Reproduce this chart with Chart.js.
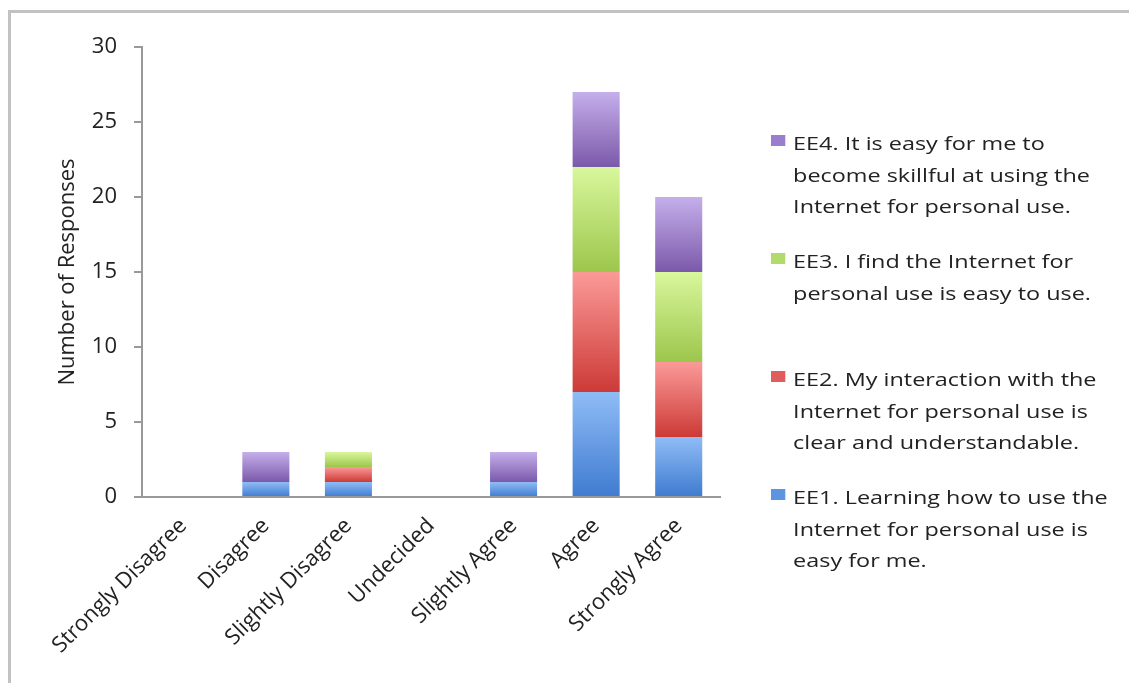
<!DOCTYPE html>
<html>
<head>
<meta charset="utf-8">
<title>Effort Expectancy</title>
<script src="https://cdn.jsdelivr.net/npm/chart.js@4.4.0/dist/chart.umd.min.js"></script>
<style>
  html, body { margin: 0; padding: 0; background: #fff; }
  .page { position: relative; width: 1129px; height: 683px; overflow: hidden; font-family: 'Open Sans', sans-serif; }
  .frame { position: absolute; left: 8px; top: 10px; right: 0; bottom: 0; border-top: 3px solid #c2c2c2; border-left: 3px solid #c2c2c2; }
  #effortChart { position: absolute; left: 0; top: 0; }
  .legend { position: absolute; left: 771px; top: 0; transform: scaleX(1.3); transform-origin: 0 0; }
  .legend .item { position: absolute; left: 0; white-space: nowrap; color: #222; font-size: 18px; line-height: 31.5px; }
  .legend .swatch { position: absolute; left: 0; top: 7px; width: 11px; height: 11px; }
  .legend .text { position: absolute; left: 17px; top: 0; }
</style>
</head>
<body>
<div class="page">
  <div class="frame"></div>
  <canvas id="effortChart" width="760" height="683"></canvas>
  <div class="legend" id="legend"></div>
</div>
<script>
const categories = ['Strongly Disagree', 'Disagree', 'Slightly Disagree', 'Undecided', 'Slightly Agree', 'Agree', 'Strongly Agree'];

// responses per item, bottom of the stack first
const ee1 = [0, 1, 1, 0, 1, 7, 4];
const ee2 = [0, 0, 1, 0, 0, 8, 5];
const ee3 = [0, 0, 1, 0, 0, 7, 6];
const ee4 = [0, 2, 0, 0, 2, 5, 5];

const seriesNames = [
  ['EE1. Learning how to use the', 'Internet for personal use is', 'easy for me.'],
  ['EE2. My interaction with the', 'Internet for personal use is', 'clear and understandable.'],
  ['EE3. I find the Internet for', 'personal use is easy to use.'],
  ['EE4. It is easy for me to', 'become skillful at using the', 'Internet for personal use.'],
];

const yTicks = [0, 5, 10, 15, 20, 25, 30];

// light top / dark bottom shade for each series
const shades = [
  ['#8fbcf6', '#3f7bd0'],
  ['#fb9a98', '#cc3a36'],
  ['#d9f79c', '#9cc64c'],
  ['#c5afeb', '#7b59aa'],
];
const swatches = ['#5e95e0', '#df5d5a', '#b3da6c', '#9a7dcc'];

const seriesData = [ee1, ee2, ee3, ee4];

function segmentFill(c) {
  const pair = shades[c.datasetIndex];
  if (c.type !== 'data') return pair[1];
  const chart = c.chart;
  const y = chart.scales.y;
  if (!y) return pair[1];
  let base = 0;
  for (let k = 0; k < c.datasetIndex; k++) base += chart.data.datasets[k].data[c.dataIndex];
  const top = base + chart.data.datasets[c.datasetIndex].data[c.dataIndex];
  const y0 = y.getPixelForValue(base);
  const y1 = y.getPixelForValue(top);
  if (!Number.isFinite(y0) || !Number.isFinite(y1) || y0 === y1) return pair[1];
  const g = chart.ctx.createLinearGradient(0, y1, 0, y0);
  g.addColorStop(0, pair[0]);
  g.addColorStop(1, pair[1]);
  return g;
}

const axisFont = { family: "'Open Sans', sans-serif", size: 22 };
const textColor = '#222';

new Chart(document.getElementById('effortChart'), {
  type: 'bar',
  data: {
    labels: categories,
    datasets: seriesData.map((vals, i) => ({
      label: seriesNames[i].join(' '),
      data: vals,
      backgroundColor: segmentFill,
      borderWidth: 0,
      barPercentage: 0.57,
      categoryPercentage: 1,
    })),
  },
  options: {
    responsive: false,
    animation: false,
    layout: { padding: { left: 51, right: 40, top: 47, bottom: 0 } },
    plugins: {
      legend: { display: false },
      tooltip: { enabled: false },
    },
    scales: {
      x: {
        stacked: true,
        grid: { display: false, drawTicks: false },
        border: { color: '#999', width: 2 },
        ticks: {
          autoSkip: false,
          minRotation: 45,
          maxRotation: 45,
          padding: 16,
          color: textColor,
          font: axisFont,
        },
        afterFit: (scale) => { scale.height = 186; },
      },
      y: {
        stacked: true,
        min: 0,
        max: 30,
        afterBuildTicks: (scale) => { scale.ticks = yTicks.map((v) => ({ value: v })); },
        grid: { drawOnChartArea: false, drawTicks: true, tickLength: 8, color: '#999', lineWidth: 2 },
        border: { color: '#999', width: 2 },
        ticks: { padding: 17, color: textColor, font: axisFont },
        title: {
          display: true,
          text: 'Number of Responses',
          color: textColor,
          font: axisFont,
          padding: { top: 4, bottom: 0 },
        },
        afterFit: (scale) => { scale.width = 91; },
      },
    },
  },
});

// legend on the right, top entry is the top of the stack
const legend = document.getElementById('legend');
for (let i = seriesNames.length - 1, slot = 0; i >= 0; i--, slot++) {
  const item = document.createElement('div');
  item.className = 'item';
  item.style.top = (128 + slot * 118) + 'px';
  const sw = document.createElement('div');
  sw.className = 'swatch';
  sw.style.background = swatches[i];
  const txt = document.createElement('div');
  txt.className = 'text';
  txt.innerHTML = seriesNames[i].join('<br>');
  item.appendChild(sw);
  item.appendChild(txt);
  legend.appendChild(item);
}
</script>
</body>
</html>
